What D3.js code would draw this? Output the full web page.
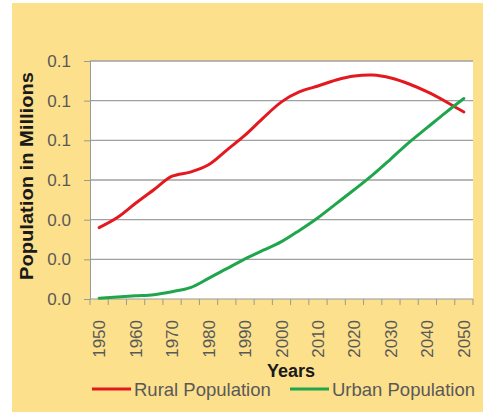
<!DOCTYPE html>
<html>
<head>
<meta charset="utf-8">
<script src="https://cdn.jsdelivr.net/npm/d3@7"></script>
<style>
  body { margin: 0; background: #fff; }
  svg { display: block; font-family: "Liberation Sans", Arial, sans-serif; }
</style>
</head>
<body>
<svg id="chart" width="483" height="412"></svg>
<script>
const years = [1950, 1955, 1960, 1965, 1970, 1975, 1980, 1985, 1990, 1995, 2000,
               2005, 2010, 2015, 2020, 2025, 2030, 2035, 2040, 2045, 2050];
const labelYears = [1950, 1960, 1970, 1980, 1990, 2000, 2010, 2020, 2030, 2040, 2050];
const rural = [0.0360, 0.0411, 0.0483, 0.0551, 0.0619, 0.0640, 0.0677, 0.0751, 0.0826, 0.0913, 0.0994,
               0.1045, 0.1074, 0.1104, 0.1124, 0.1129, 0.1114, 0.1084, 0.1044, 0.0996, 0.0943];
const urban = [0.0004, 0.0010, 0.0016, 0.0022, 0.0037, 0.0057, 0.0104, 0.0153, 0.0202, 0.0246, 0.0289,
               0.0347, 0.0410, 0.0481, 0.0552, 0.0626, 0.0707, 0.0790, 0.0865, 0.0940, 0.1011];
const yTicks = [0, 0.02, 0.04, 0.06, 0.08, 0.10, 0.12];
const seriesNames = ["Rural Population", "Urban Population"];
const seriesColors = ["#e3191f", "#1fa64c"];

const svg = d3.select("#chart");

// yellow panel
svg.append("rect")
    .attr("x", 12).attr("y", 3)
    .attr("width", 471).attr("height", 409)
    .attr("fill", "#fce08b");

const plotLeft = 90, plotRight = 473, plotTop = 61, plotBottom = 299;

const x = d3.scaleBand().domain(years).range([plotLeft, plotRight]);
const y = d3.scaleLinear().domain([0, 0.12]).range([plotBottom, plotTop]);
const cx = d => x(d) + x.bandwidth() / 2;

// plot area
svg.append("rect")
    .attr("x", plotLeft).attr("y", plotTop)
    .attr("width", plotRight - plotLeft).attr("height", plotBottom - plotTop)
    .attr("fill", "#fff");

// gridlines
svg.append("g")
    .selectAll("line")
    .data(yTicks.slice(1))
    .enter()
    .append("line")
    .attr("x1", plotLeft).attr("x2", plotRight)
    .attr("y1", d => y(d)).attr("y2", d => y(d))
    .attr("stroke", "#a0a0a0")
    .attr("stroke-width", 1.4);

// y axis
const yAxis = svg.append("g")
    .attr("transform", "translate(" + plotLeft + ",0)")
    .call(d3.axisLeft(y).tickValues(yTicks).tickFormat(d3.format(".1f")).tickSize(6).tickPadding(13));
yAxis.select(".domain").attr("stroke", "#999");
yAxis.selectAll(".tick line").attr("stroke", "#999");
yAxis.selectAll("text")
    .attr("fill", "#595959")
    .style("font-size", "17px")
    .style("font-family", "'Liberation Sans', Arial, sans-serif");

// x axis line and tick marks at category boundaries
svg.append("line")
    .attr("x1", plotLeft).attr("x2", plotRight)
    .attr("y1", plotBottom).attr("y2", plotBottom)
    .attr("stroke", "#999");
svg.append("g")
    .selectAll("line")
    .data(years.map(d => x(d)).concat([plotRight]))
    .enter()
    .append("line")
    .attr("x1", d => d).attr("x2", d => d)
    .attr("y1", plotBottom).attr("y2", plotBottom + 6)
    .attr("stroke", "#999");

// x labels (rotated)
svg.append("g")
    .selectAll("text")
    .data(labelYears)
    .enter()
    .append("text")
    .attr("transform", d => "translate(" + (cx(d) + 6) + "," + (plotBottom + 21) + ") rotate(-90)")
    .attr("text-anchor", "end")
    .attr("fill", "#595959")
    .style("font-size", "17px")
    .text(d => d);

// lines
const line = d3.line()
    .x((d, i) => cx(years[i]))
    .y(d => y(d))
    .curve(d3.curveCatmullRom.alpha(0.5));

[rural, urban].forEach((series, i) => {
    svg.append("path")
        .attr("d", line(series))
        .attr("fill", "none")
        .attr("stroke", seriesColors[i])
        .attr("stroke-width", 3)
        .attr("stroke-linejoin", "round")
        .attr("stroke-linecap", "round");
});

// axis titles
svg.append("text")
    .attr("transform", "translate(33,176) rotate(-90)")
    .attr("text-anchor", "middle")
    .attr("font-weight", "bold")
    .attr("fill", "#1a1a1a")
    .style("font-size", "18px")
    .attr("textLength", 208)
    .attr("lengthAdjust", "spacingAndGlyphs")
    .text("Population in Millions");

svg.append("text")
    .attr("x", 291).attr("y", 377)
    .attr("text-anchor", "middle")
    .attr("font-weight", "bold")
    .attr("fill", "#1a1a1a")
    .style("font-size", "18px")
    .text("Years");

// legend
const legendX = [92, 290];
seriesNames.forEach((name, i) => {
    svg.append("line")
        .attr("x1", legendX[i]).attr("x2", legendX[i] + 39)
        .attr("y1", 389).attr("y2", 389)
        .attr("stroke", seriesColors[i])
        .attr("stroke-width", 3);
    svg.append("text")
        .attr("x", legendX[i] + 42).attr("y", 396)
        .attr("fill", "#595959")
        .style("font-size", "18.5px")
        .text(name);
});
</script>
</body>
</html>
